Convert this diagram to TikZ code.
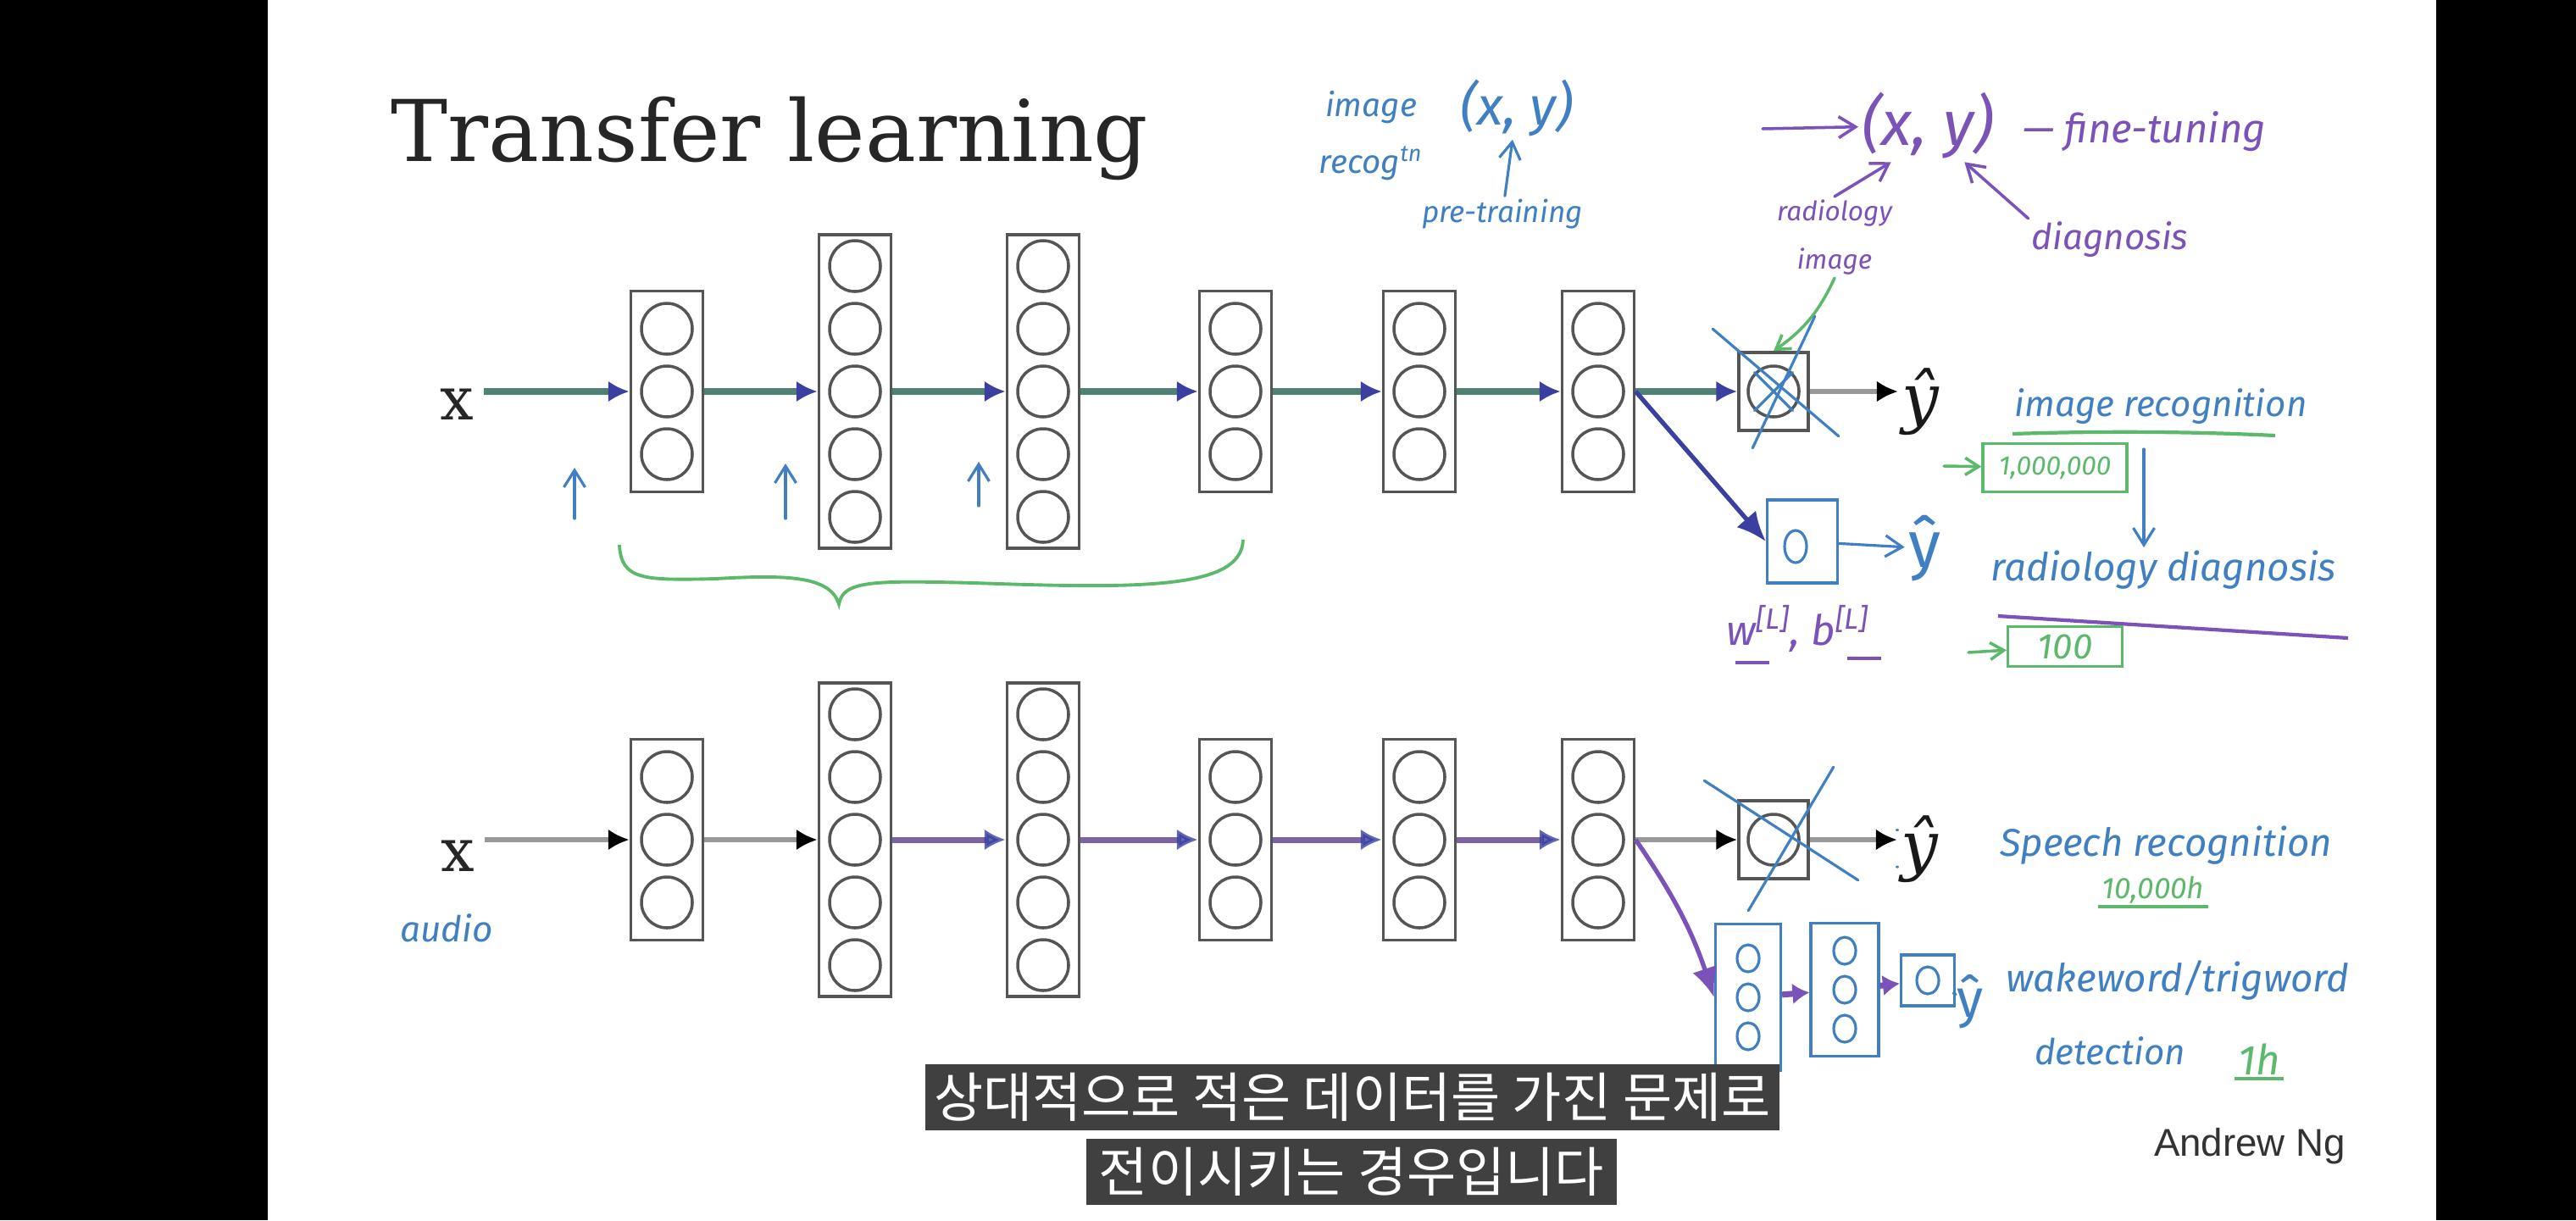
\documentclass[tikz,border=0pt]{standalone}
\usepackage{fontspec}
\usepackage{tikz}
\usetikzlibrary{shapes,arrows.meta}
\newfontfamily\handfont{Fira Sans}
\newfontfamily\korfont{Noto Sans CJK KR}
\newfontfamily\ngfont{Liberation Sans}
\newfontfamily\slidefont{DejaVu Serif}
\definecolor{inkblue}{HTML}{3F7FC2}
\definecolor{inkpurple}{HTML}{7B52B8}
\definecolor{inkgreen}{HTML}{5CB96B}
\definecolor{inknavy}{HTML}{3B3FA0}
\definecolor{arrowteal}{HTML}{4F8274}
\definecolor{boxgray}{HTML}{555555}
\tikzstyle{nnlayer} = [rectangle, draw=boxgray, line width=1pt, minimum width=0.85cm, inner sep=0pt]
\tikzstyle{shortlayer} = [nnlayer, minimum height=2.37cm]
\tikzstyle{talllayer} = [nnlayer, minimum height=3.70cm]
\tikzstyle{outbox} = [nnlayer, minimum width=0.82cm, minimum height=0.92cm]
\tikzstyle{neuron} = [circle, draw=boxgray, line width=1pt, minimum size=0.6cm, inner sep=0pt]
\tikzstyle{line} = [draw, black!40, line width=1.6pt, -{Latex[color=black,length=2.5mm,width=2.5mm]}]
\tikzstyle{pretrainline} = [draw, arrowteal, line width=2pt, -{Latex[color=inknavy,length=2.5mm,width=2.5mm]}]
\tikzstyle{tunedline} = [draw, inkpurple!75!black, line width=2pt, opacity=0.8, -{Latex[color=inknavy,length=2.5mm,width=2.5mm]}]
\tikzstyle{ink} = [draw, inkblue, line width=0.9pt, line cap=round]
\tikzstyle{inkarrow} = [ink, -{Straight Barb[length=2mm,width=2.5mm]}]
\tikzstyle{greenarrow} = [draw, inkgreen, line width=1pt, line cap=round, -{Straight Barb[length=1.6mm,width=2mm]}]
\tikzstyle{purplehand} = [draw, inkpurple, line width=1pt, line cap=round, -{Straight Barb[length=2mm,width=2.5mm]}]
\tikzstyle{purplearrow} = [draw, inkpurple, line width=2pt, -{Latex[length=2mm,width=2.5mm]}]
\tikzstyle{bigpurple} = [draw, inknavy, line width=1.5pt, -{Latex[length=3.5mm,width=3mm]}]
\tikzstyle{handtext} = [inner sep=1pt, align=center]
\tikzstyle{newbox} = [rectangle, draw=inkblue, line width=0.9pt, inner sep=0pt]
\tikzstyle{newcell} = [ellipse, draw=inkblue, line width=0.9pt, inner sep=0pt, minimum width=0.26cm, minimum height=0.32cm]
\tikzstyle{databox} = [rectangle, draw=inkgreen, line width=0.9pt, text=inkgreen, inner sep=1pt]
\tikzstyle{subtitle} = [fill=black!75, text=white, font=\korfont\fontsize{18}{20}\selectfont, minimum height=0.78cm, inner sep=0pt]
\tikzstyle{inputlabel} = [font=\slidefont\fontsize{20}{22}\selectfont, text=black!85]
\tikzstyle{outputlabel} = [font=\slidefont\itshape\fontsize{22}{24}\selectfont, text=black!90, inner sep=1pt]
\begin{document}
\begin{tikzpicture}
    \useasboundingbox (0,0) rectangle (30.4,-14.4);
    \fill[black] (0,0) rectangle (3.16,-14.4);
    \fill[white] (3.16,0) rectangle (28.75,-14.4);
    \fill[black] (28.75,0) rectangle (30.4,-14.4);
    \node [anchor=base west, inner sep=0pt, text=black!85, font=\slidefont\fontsize{28.6}{34}\selectfont] (title) at (4.61,-1.90) {Transfer learning};

    % Place nodes: image network
    \node [inputlabel] (ax) at (5.39,-4.77) {x};
    \node [shortlayer] (a1) at (7.87,-4.62) {};
    \node [talllayer, right of=a1, node distance=2.22cm] (a2) {};
    \node [talllayer, right of=a2, node distance=2.22cm] (a3) {};
    \node [shortlayer, right of=a3, node distance=2.27cm] (a4) {};
    \node [shortlayer, right of=a4, node distance=2.17cm] (a5) {};
    \node [shortlayer, right of=a5, node distance=2.11cm] (a6) {};
    \node [outbox, right of=a6, node distance=2.07cm] (aout) {};
    \node [neuron] (aoutc) at (aout) {};
    \node [outputlabel] (ayhat) at (22.66,-4.74) {ŷ};

    % Place nodes: audio network
    \node [inputlabel] (bx) at (5.40,-10.10) {x};
    \node [shortlayer] (b1) at (7.87,-9.91) {};
    \node [talllayer, right of=b1, node distance=2.22cm] (b2) {};
    \node [talllayer, right of=b2, node distance=2.22cm] (b3) {};
    \node [shortlayer, right of=b3, node distance=2.27cm] (b4) {};
    \node [shortlayer, right of=b4, node distance=2.17cm] (b5) {};
    \node [shortlayer, right of=b5, node distance=2.11cm] (b6) {};
    \node [outbox, right of=b6, node distance=2.07cm] (bout) {};
    \node [neuron] (boutc) at (bout) {};
    \node [outputlabel] (byhat) at (22.65,-10.02) {ŷ};

    \foreach \l/\n in {a1/3,a2/5,a3/5,a4/3,a5/3,a6/3,b1/3,b2/5,b3/5,b4/3,b5/3,b6/3} {
        \foreach \k in {1,...,\n} {
            \node [neuron] (\l-\k) at ([yshift={((\n+1)/2-\k)*7.4mm}]\l.center) {};
        }
    }

    % Draw edges
    \foreach \p/\q in {ax/a1,a1/a2,a2/a3,a3/a4,a4/a5,a5/a6,a6/aout}
        \path [pretrainline] (\p.east |- a1) -- (\q.west |- a1);
    \path [line] (aout) -- (aout -| ayhat.west);
    \path [line] (bx.east |- b1) -- (b1);
    \path [line] (b1) -- (b2);
    \foreach \p/\q in {b2/b3,b3/b4,b4/b5,b5/b6}
        \path [tunedline] (\p) -- (\q);
    \path [line] (b6) -- (bout);
    \path [line] (bout) -- (bout -| byhat.west);

    % pre-training notes
    \node [handtext, text=inkblue, font=\handfont\itshape\fontsize{11}{19}\selectfont] (imgnote) at (16.18,-1.60) {image\\recog\textsuperscript{tn}};
    \node [handtext, text=inkblue, font=\handfont\itshape\fontsize{18}{20}\selectfont] (xyblue) at (17.90,-1.27) {(x, y)};
    \node [handtext, text=inkblue, font=\handfont\itshape\fontsize{10}{12}\selectfont] (pretrain) at (17.73,-2.53) {pre-training};
    \path [inkarrow] (pretrain) -- (xyblue);
    \foreach \u/\x/\b/\t in {1/6.78/6.12/5.52,2/9.27/6.12/5.47,3/11.55/5.97/5.45} {
        \coordinate (up\u) at (\x,-\b);
        \coordinate (tip\u) at (\x,-\t);
        \path [inkarrow] (up\u) -- (tip\u);
    }
    \draw [inkgreen, line width=1.1pt] (7.31,-6.43) .. controls (7.33,-6.85) and (7.6,-6.85) .. (8.45,-6.83)
        .. controls (9.3,-6.78) and (9.8,-6.80) .. (9.90,-7.13)
        .. controls (9.95,-6.85) and (10.3,-6.85) .. (11.5,-6.88)
        .. controls (13.5,-6.95) and (14.65,-6.95) .. (14.67,-6.37);

    % fine-tuning notes
    \coordinate (ftstart) at (20.80,-1.52);
    \node [handtext, text=inkpurple, font=\handfont\itshape\fontsize{21}{22}\selectfont] (xypurple) at (22.75,-1.48) {(x, y)};
    \path [purplehand] (ftstart) -- (xypurple);
    \node [handtext, anchor=west, text=inkpurple, font=\handfont\itshape\fontsize{13.5}{15}\selectfont] (finetune) at (23.83,-1.55) {— fine-tuning};
    \node [handtext, text=inkpurple, font=\handfont\itshape\fontsize{9}{16}\selectfont] (radimg) at (21.65,-2.80) {radiology\\image};
    \node [handtext, text=inkpurple, font=\handfont\itshape\fontsize{12}{14}\selectfont] (diag) at (24.90,-2.83) {diagnosis};
    \path [purplehand] (radimg.north) -- (xypurple.225);
    \path [purplehand] (diag.north west) -- (xypurple.-45);
    \path [greenarrow] (radimg.south) to[bend left=15] (aout.north);

    % cross out the old output
    \draw [ink] ([shift={(-0.29,0.26)}]aout.north west) -- ([shift={(0.34,-0.05)}]aout.south east);
    \draw [ink] ([shift={(0.06,0.41)}]aout.north east) -- ([shift={(0.18,-0.19)}]aout.south west);
    \draw [ink] (aoutc.north west) -- (aoutc.south east);
    \draw [ink] (aoutc.north east) -- (aoutc.south west);

    % new output layer
    \node [newbox, minimum width=0.83cm, minimum height=0.98cm] (cout) at (21.27,-6.39) {};
    \node [newcell, minimum width=0.26cm, minimum height=0.38cm] (coutc) at (21.19,-6.45) {};
    \node [text=inkblue, inner sep=1pt, font=\handfont\fontsize{22}{24}\selectfont] (cyhat) at (22.71,-6.47) {ŷ};
    \path [bigpurple] (a6.east) -- (cout.west);
    \path [inkarrow] (cout) -- (cyhat);
    \node [handtext, text=inkpurple, font=\handfont\itshape\fontsize{14}{16}\selectfont] (wbnote) at (21.22,-7.42) {w\textsuperscript{[L]}, b\textsuperscript{[L]}};
    \draw [inkpurple, line width=1pt] (20.48,-7.82) -- (20.88,-7.82);
    \draw [inkpurple, line width=1pt] (21.80,-7.77) -- (22.20,-7.77);

    % data sizes
    \node [handtext, text=inkblue, font=\handfont\itshape\fontsize{12}{14}\selectfont] (imgrec) at (25.50,-4.80) {image recognition};
    \draw [inkgreen, line width=1.2pt] (23.75,-5.12) .. controls (25,-5.08) and (26,-5.10) .. (26.85,-5.14);
    \node [databox, minimum width=1.70cm, minimum height=0.57cm, font=\handfont\itshape\fontsize{9}{10}\selectfont] (bigdata) at (24.25,-5.52) {1,000,000};
    \coordinate (bigin) at (22.94,-5.50);
    \path [greenarrow] (bigin) -- (bigdata);
    \node [handtext, text=inkblue, font=\handfont\itshape\fontsize{13}{15}\selectfont] (raddiag) at (25.53,-6.73) {radiology diagnosis};
    \coordinate (downtop) at (25.30,-5.30);
    \path [inkarrow] (downtop) -- (downtop |- raddiag.north);
    \draw [inkpurple, line width=1.2pt] (23.58,-7.27) -- (27.71,-7.53);
    \node [databox, minimum width=1.35cm, minimum height=0.47cm, font=\handfont\itshape\fontsize{12}{13}\selectfont] (smalldata) at (24.37,-7.63) {100};
    \coordinate (smallin) at (23.23,-7.70);
    \path [greenarrow] (smallin) -- (smalldata);

    % speech side
    \node [handtext, text=inkblue, font=\handfont\itshape\fontsize{12}{14}\selectfont] (audio) at (5.27,-10.95) {audio};
    \draw [ink] ([shift={(-0.39,0.22)}]bout.north west) -- ([shift={(0.57,0)}]bout.south east);
    \draw [ink] ([shift={(0.28,0.38)}]bout.north east) -- ([shift={(0.13,-0.36)}]bout.south west);
    \draw [ink] ([shift={(-0.58,-0.47)}]byhat) -- ([shift={(0.17,0.37)}]byhat);
    \draw [ink] ([shift={(-0.43,0.37)}]byhat) -- ([shift={(0.19,-0.30)}]byhat);
    \node [handtext, text=inkblue, font=\handfont\itshape\fontsize{13}{15}\selectfont] (speech) at (25.56,-9.98) {Speech recognition};
    \node [handtext, text=inkgreen, font=\handfont\itshape\fontsize{10}{12}\selectfont] (tenk) at (25.41,-10.50) {10,000h};
    \draw [inkgreen, line width=1.2pt] (tenk.south west) -- (tenk.south east);

    \node [newbox, minimum width=0.77cm, minimum height=1.73cm] (d1) at (20.63,-11.77) {};
    \node [newbox, minimum width=0.80cm, minimum height=1.57cm] (d2) at (21.77,-11.68) {};
    \node [newbox, minimum width=0.63cm, minimum height=0.60cm] (d3) at (22.75,-11.57) {};
    \foreach \l in {d1,d2} {
        \foreach \k in {1,2,3} {
            \node [newcell] (\l-\k) at ([yshift={(2-\k)*4.6mm}]\l.center) {};
        }
    }
    \node [newcell] (d3-1) at (d3) {};
    \node [text=inkblue, inner sep=1pt, font=\handfont\fontsize{18}{20}\selectfont] (dyhat) at (23.25,-11.82) {ŷ};
    \path [bigpurple, inkpurple] (b6.east) to[bend left=8] (d1.west);
    \path [purplearrow] (d1) -- (d2);
    \path [purplearrow] (d2) -- (d3);
    \draw [ink] (d3) -- (dyhat);
    \node [handtext, text=inkblue, font=\handfont\itshape\fontsize{13}{15}\selectfont] (wake) at (25.70,-11.57) {wakeword/trigword};
    \node [handtext, text=inkblue, font=\handfont\itshape\fontsize{12}{14}\selectfont] (detect) at (24.90,-12.40) {detection};
    \node [handtext, text=inkgreen, font=\handfont\itshape\fontsize{14}{16}\selectfont] (oneh) at (26.66,-12.50) {1h};
    \draw [inkgreen, line width=1.2pt] (oneh.south west) -- (oneh.south east);

    % subtitles and credit
    \node [subtitle, minimum width=10.08cm] (sub1) at (15.96,-12.95) {상대적으로 적은 데이터를 가진 문제로};
    \node [subtitle, minimum width=6.26cm] (sub2) at (15.95,-13.83) {전이시키는 경우입니다};
    \node [text=black!80, font=\ngfont\fontsize{13}{13}\selectfont] (credit) at (26.55,-13.53) {Andrew Ng};
\end{tikzpicture}
\end{document}
